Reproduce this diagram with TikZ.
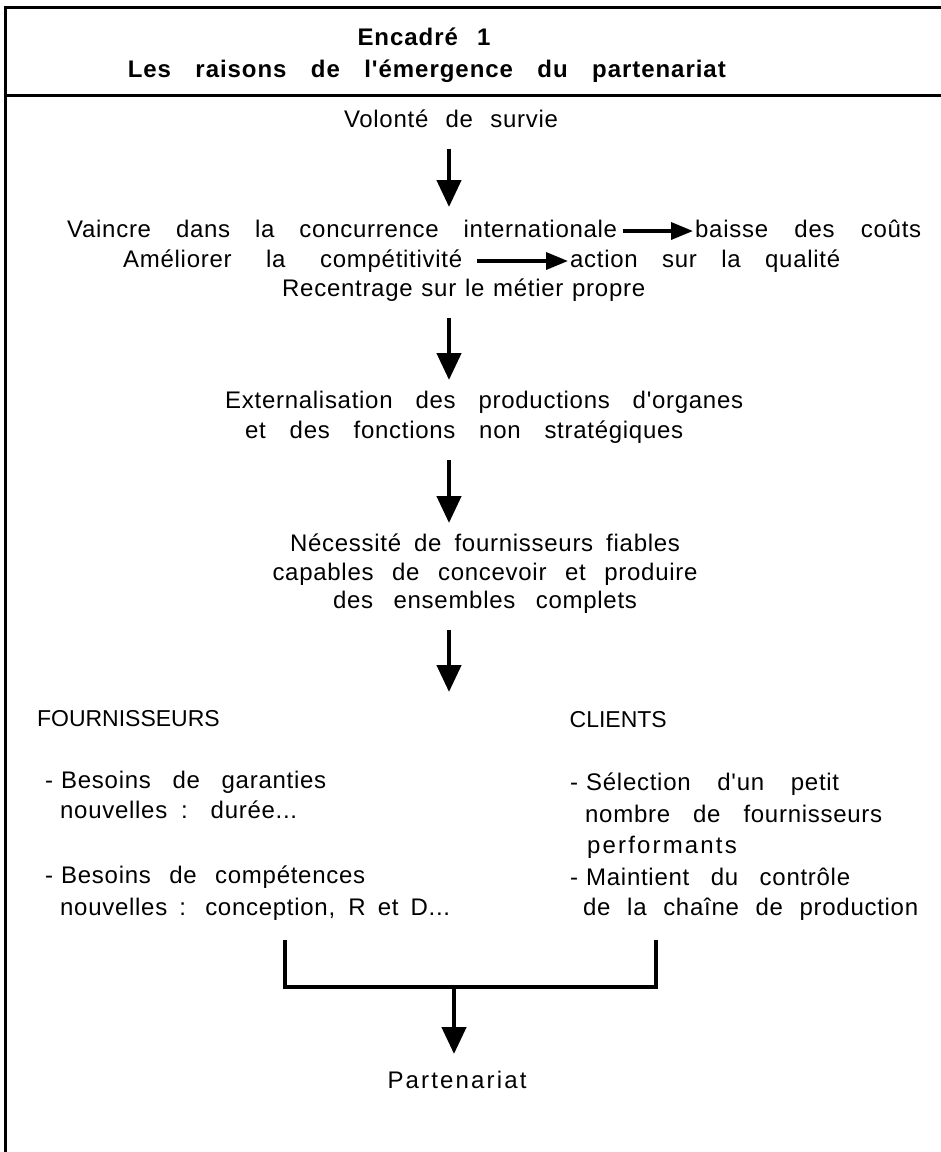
\documentclass[tikz,border=0pt]{standalone}
\usepackage{fontspec}
\setmainfont{Liberation Sans}[LetterSpace=3,Ligatures=TeXOff]
\newfontfamily\capsfont{Liberation Sans}[LetterSpace=0,Ligatures=TeXOff]
\newfontfamily\widefont{Liberation Sans}[LetterSpace=9,Ligatures=TeXOff]
\newfontfamily\partfont{Liberation Sans}[LetterSpace=9,Ligatures=TeXOff]
\newfontfamily\titlefont{Liberation Sans}[LetterSpace=4,Ligatures=TeXOff]
\usetikzlibrary{arrows.meta}
\newcommand{\linefit}[2]{\makebox[#1][s]{#2}}
\newcommand{\dashitem}{-\hspace{8pt}}
\begin{document}
\begin{tikzpicture}[x=1pt,y=-1pt,
  txt/.style={inner sep=0pt,font=\fontsize{24}{27}\selectfont},
  capstxt/.style={inner sep=0pt,font=\capsfont\fontsize{23}{26}\selectfont},
  widetxt/.style={inner sep=0pt,font=\widefont\fontsize{24}{27}\selectfont},
  parttxt/.style={inner sep=0pt,font=\partfont\fontsize{24}{27}\selectfont},
  ttl/.style={inner sep=0pt,font=\titlefont\bfseries\fontsize{24}{27}\selectfont},
  rule/.style={line width=3pt,line cap=rect},
  varr/.style={line width=4.5pt,-{Triangle[length=27pt,width=24pt]}},
  harr/.style={line width=3.5pt,-{Triangle[length=22pt,width=17pt]}},
  brk/.style={line width=3.5pt,line cap=rect}]
\useasboundingbox (0,0) rectangle (941,1152);
% frame
\coordinate (fbl) at (5,1152);
\coordinate (ftl) at (5,7);
\coordinate (ftr) at (941,7);
\coordinate (fsl) at (5,95);
\coordinate (fsr) at (941,95);
\draw[rule] (fbl) -- (ftl) -- (ftr);
\draw[rule] (fsl) -- (fsr);
% title
\node[ttl,anchor=base] (enc) at (424,45) {\linefit{133pt}{Encadré 1}};
\node[ttl,anchor=base east] (tit) at (726,77) {\linefit{598pt}{Les raisons de l'émergence du partenariat}};
% flow
\node[txt,anchor=base] (vol) at (451,127) {\linefit{214pt}{Volonté de survie}};
\node[txt,anchor=base west] (vain) at (67,237) {\linefit{550pt}{Vaincre dans la concurrence internationale}};
\node[txt,anchor=base west] (baisse) at (695,237) {\linefit{226pt}{baisse des coûts}};
\node[txt,anchor=base west] (amel) at (123,267) {\linefit{339pt}{Améliorer la compétitivité}};
\node[txt,anchor=base west] (action) at (570,267) {\linefit{270pt}{action sur la qualité}};
\node[txt,anchor=base west] (rec) at (282,296) {\linefit{363pt}{Recentrage sur le métier propre}};
\node[txt,anchor=base west] (ext1) at (225,408) {\linefit{518pt}{Externalisation des productions d'organes}};
\node[txt,anchor=base west] (ext2) at (245,438) {\linefit{438pt}{et des fonctions non stratégiques}};
\node[txt,anchor=base] (nec1) at (485,551) {\linefit{390pt}{Nécessité de fournisseurs fiables}};
\node[txt,anchor=base] (nec2) at (485,580) {\linefit{425pt}{capables de concevoir et produire}};
\node[txt,anchor=base] (nec3) at (485,608) {\linefit{304pt}{des ensembles complets}};
% two columns
\node[capstxt,anchor=base east] (four) at (220,726) {FOURNISSEURS};
\node[capstxt,anchor=base east] (cli) at (667,727) {CLIENTS};
\node[txt,anchor=base west] (b1) at (45,788) {\dashitem\linefit{265pt}{Besoins de garanties}};
\node[txt,anchor=base west] (b1b) at (60,818) {\linefit{237pt}{nouvelles : durée...}};
\node[txt,anchor=base west] (b2) at (45,883) {\dashitem\linefit{304pt}{Besoins de compétences}};
\node[txt,anchor=base west] (b2b) at (60,915) {\linefit{390pt}{nouvelles : conception, R et D...}};
\node[txt,anchor=base west] (c1) at (570,790) {\dashitem\linefit{253pt}{Sélection d'un petit}};
\node[txt,anchor=base west] (c1b) at (585,822) {\linefit{297pt}{nombre de fournisseurs}};
\node[widetxt,anchor=base west] (c1c) at (587,853) {performants};
\node[txt,anchor=base west] (c2) at (570,885) {\dashitem\linefit{264pt}{Maintient du contrôle}};
\node[txt,anchor=base west] (c2b) at (583,915) {\linefit{335pt}{de la chaîne de production}};
\node[parttxt,anchor=base] (part) at (457,1088) {Partenariat};
% vertical arrows
\coordinate (a1s) at (449,149);
\coordinate (a1e) at (449,207);
\coordinate (a2s) at (449,318);
\coordinate (a2e) at (449,380);
\coordinate (a3s) at (449,460);
\coordinate (a3e) at (449,523);
\coordinate (a4s) at (449,630);
\coordinate (a4e) at (449,692);
\draw[varr] (a1s) -- (a1e);
\draw[varr] (a2s) -- (a2e);
\draw[varr] (a3s) -- (a3e);
\draw[varr] (a4s) -- (a4e);
% horizontal arrows
\draw[harr,shorten <=6pt,shorten >=2pt] ([yshift=6pt]vain.base east) -- ([yshift=6pt]vain.base east -| baisse.west);
\draw[harr,shorten <=15pt,shorten >=2pt] ([yshift=6pt]amel.base east) -- ([yshift=6pt]amel.base east -| action.west);
% bracket
\coordinate (bl) at (285,942);
\coordinate (br) at (656,942);
\coordinate (bm) at (454,987);
\coordinate (pe) at (454,1054);
\draw[brk] (bl) -- (bl |- bm) -- (br |- bm) -- (br);
\draw[varr] (bm) -- (pe);
\end{tikzpicture}
\end{document}
